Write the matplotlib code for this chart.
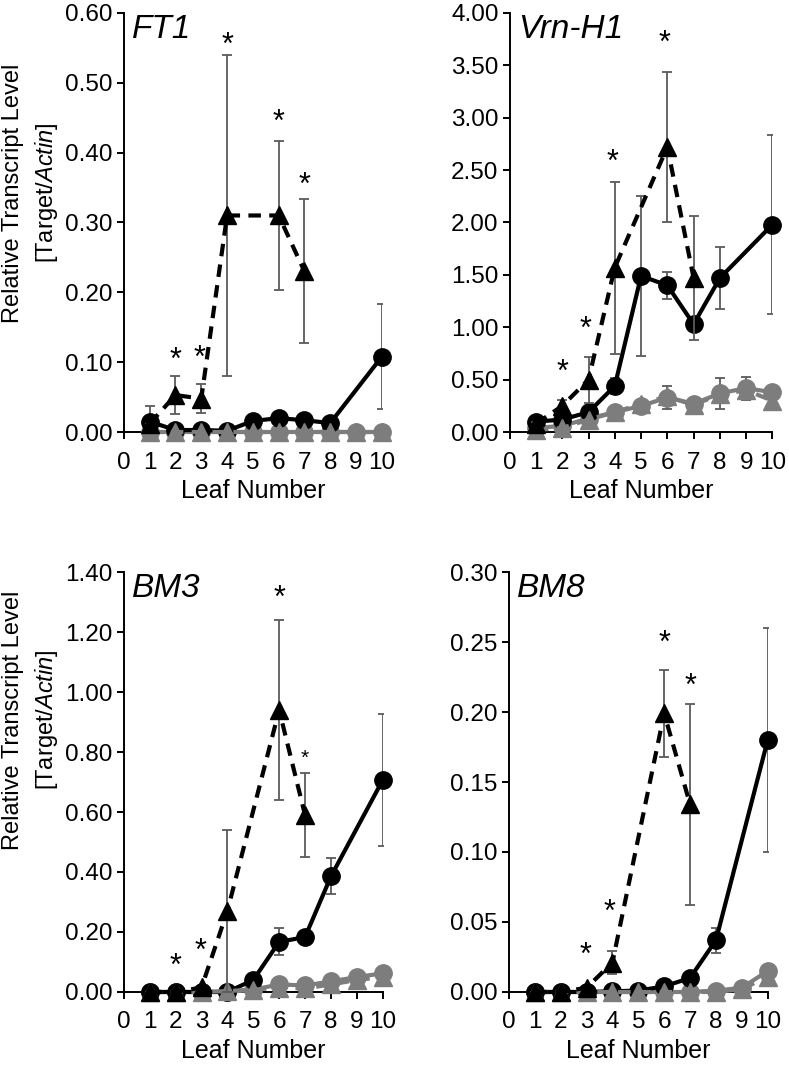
import numpy as np
import matplotlib
matplotlib.use("Agg")
import matplotlib.pyplot as plt
from matplotlib.ticker import FormatStrFormatter, MultipleLocator

plt.rcParams['font.family'] = ['Liberation Sans', 'DejaVu Sans']
plt.rcParams['mathtext.fontset'] = 'custom'
plt.rcParams['mathtext.rm'] = 'Liberation Sans'
plt.rcParams['mathtext.it'] = 'Liberation Sans:italic'

nan = np.nan
leaf = np.arange(1, 11)
x_ticks = list(range(0, 11))

# FT1
ft1_circ_black = [0.015, 0.003, 0.003, 0.002, 0.016, 0.020, 0.017, 0.013, nan, 0.108]
ft1_circ_black_err = [0.022, 0, 0, 0, 0, 0, 0, 0, nan, 0.075]
ft1_tri_black = [0.012, 0.053, 0.048, 0.31, nan, 0.31, 0.23, nan, nan, nan]
ft1_tri_black_err = [0, 0.027, 0.021, 0.23, nan, 0.107, 0.103, nan, nan, nan]
ft1_circ_gray = [0, 0, 0, 0, 0, 0, 0, 0, 0, 0]
ft1_tri_gray = [0, 0, 0, 0, 0, 0, 0, 0, 0, 0]
ft1_star_x = [2, 2.95, 4, 6, 7]
ft1_star_y = [0.115, 0.118, 0.565, 0.455, 0.365]

# Vrn-H1
vrn_circ_black = [0.10, 0.12, 0.19, 0.44, 1.49, 1.40, 1.03, 1.47, nan, 1.98]
vrn_circ_black_err = [0.02, 0.02, 0.03, 0.08, 0.76, 0.13, 0.07, 0.30, nan, 0.85]
vrn_tri_black = [0.08, 0.25, 0.50, 1.57, nan, 2.72, 1.47, nan, nan, nan]
vrn_tri_black_err = [0.02, 0.06, 0.22, 0.82, nan, 0.72, 0.59, nan, nan, nan]
vrn_circ_gray = [0.04, 0.06, 0.13, 0.19, 0.25, 0.33, 0.27, 0.37, 0.42, 0.38]
vrn_circ_gray_err = [0, 0, 0.02, 0.03, 0.04, 0.11, 0.05, 0.15, 0.11, 0.05]
vrn_tri_gray = [0.02, 0.04, 0.12, 0.19, 0.27, 0.34, 0.26, 0.36, 0.40, 0.30]
vrn_star_x = [2, 2.9, 3.9, 5.9]
vrn_star_y = [0.65, 1.06, 2.65, 3.79]

# BM3
bm3_circ_black = [0, 0, 0, 0, 0.04, 0.167, 0.183, 0.385, nan, 0.706]
bm3_circ_black_err = [0, 0, 0, 0, 0.01, 0.045, 0.01, 0.06, nan, 0.22]
bm3_tri_black = [0, 0, 0.015, 0.27, nan, 0.94, 0.59, nan, nan, nan]
bm3_tri_black_err = [0, 0, 0, 0.27, nan, 0.30, 0.14, nan, nan, nan]
bm3_circ_gray = [0, 0, 0, 0, 0.008, 0.025, 0.022, 0.035, 0.05, 0.062]
bm3_tri_gray = [0, 0, 0, 0.003, 0.008, 0.014, 0.012, 0.025, 0.04, 0.05]
bm3_star_x = [2, 2.95, 6]
bm3_star_y = [0.113, 0.163, 1.34]
bm3_small_star = (7, 0.80)

# BM8
bm8_circ_black = [0, 0, 0, 0.0005, 0.001, 0.004, 0.010, 0.037, nan, 0.180]
bm8_circ_black_err = [0, 0, 0, 0, 0, 0, 0, 0.009, nan, 0.08]
bm8_tri_black = [0, 0, 0.003, 0.021, nan, 0.199, 0.134, nan, nan, nan]
bm8_tri_black_err = [0, 0, 0, 0.008, nan, 0.031, 0.072, nan, nan, nan]
bm8_circ_gray = [0, 0, 0, 0, 0, 0, 0, 0.001, 0.003, 0.015]
bm8_tri_gray = [0, 0, 0, 0, 0, 0, 0, 0, 0.002, 0.011]
bm8_star_x = [2.97, 3.9, 6, 7]
bm8_star_y = [0.032, 0.063, 0.255, 0.224]

GRAY = '#7d7d7d'
ERR = '#5a5a5a'


def draw_series(ax, vals, errs, color, marker, dashed, ms, z):
    v = np.array(vals, float)
    ok = ~np.isnan(v)
    if errs is not None:
        e = np.array(errs, float)
        ax.errorbar(leaf[ok], v[ok], yerr=e[ok], fmt='none', ecolor=ERR,
                    elinewidth=1.3, capsize=3.5, capthick=1.3, zorder=z - 0.5)
    line, = ax.plot(leaf[ok], v[ok], color=color, marker=marker, ms=ms,
                    lw=3, zorder=z, clip_on=False)
    if dashed:
        line.set_dashes((3, 2))


def setup_axis(ax, ymax, ystep, gene):
    ax.set_xlim(0, 10)
    ax.set_ylim(0, ymax)
    ax.set_xticks(x_ticks)
    ax.yaxis.set_major_locator(MultipleLocator(ystep))
    ax.yaxis.set_major_formatter(FormatStrFormatter('%.2f'))
    for s in ['top', 'right']:
        ax.spines[s].set_visible(False)
    for s in ['left', 'bottom']:
        ax.spines[s].set_linewidth(1.4)
    ax.tick_params(direction='out', length=5, width=1.4, labelsize=17.5)
    ax.tick_params(axis='x', pad=9)
    ax.tick_params(axis='y', pad=3)
    ax.set_xlabel('Leaf Number', fontsize=18, labelpad=4)
    ax.text(0.033, 0.94, gene, transform=ax.transAxes, fontsize=24,
            style='italic', va='baseline', ha='left')


def stars(ax, xs, ys, size=22):
    for x, y in zip(xs, ys):
        ax.annotate('*', (x, y), xytext=(0, -size * 0.55), textcoords='offset points',
                    ha='center', va='baseline', fontsize=size, annotation_clip=False)


fig = plt.figure(figsize=(7.89, 10.67), dpi=100)

panels = [
    ([0.157, 0.595, 0.327, 0.393], 0.60, 0.10, 'FT1',
     ft1_circ_black, ft1_circ_black_err, ft1_tri_black, ft1_tri_black_err,
     ft1_circ_gray, None, ft1_tri_gray, ft1_star_x, ft1_star_y),
    ([0.646, 0.595, 0.333, 0.393], 4.00, 0.50, 'Vrn-H1',
     vrn_circ_black, vrn_circ_black_err, vrn_tri_black, vrn_tri_black_err,
     vrn_circ_gray, vrn_circ_gray_err, vrn_tri_gray, vrn_star_x, vrn_star_y),
    ([0.157, 0.0703, 0.328, 0.3936], 1.40, 0.20, 'BM3',
     bm3_circ_black, bm3_circ_black_err, bm3_tri_black, bm3_tri_black_err,
     bm3_circ_gray, None, bm3_tri_gray, bm3_star_x, bm3_star_y),
    ([0.645, 0.0703, 0.328, 0.3936], 0.30, 0.05, 'BM8',
     bm8_circ_black, bm8_circ_black_err, bm8_tri_black, bm8_tri_black_err,
     bm8_circ_gray, None, bm8_tri_gray, bm8_star_x, bm8_star_y),
]

axes = []
for (rect, ymax, ystep, gene, cb, cbe, tb, tbe, cg, cge, tg, sx, sy) in panels:
    ax = fig.add_axes(rect)
    setup_axis(ax, ymax, ystep, gene)
    draw_series(ax, cg, cge, GRAY, 'o', False, 12.5, 3)
    draw_series(ax, cb, cbe, 'black', 'o', False, 12.5, 4)
    draw_series(ax, tg, None, GRAY, '^', True, 13, 5)
    draw_series(ax, tb, tbe, 'black', '^', True, 13, 6)
    stars(ax, sx, sy)
    axes.append(ax)

stars(axes[2], [bm3_small_star[0]], [bm3_small_star[1]], size=15)

# y labels (two lines, only on left panels)
for yc in [1 - 193 / 1067, 1 - 720 / 1067]:
    fig.text(13 / 789, yc, 'Relative Transcript Level', rotation=90,
             ha='center', va='center', fontsize=17)
    fig.text(47 / 789, yc, '[Target/$\\mathit{Actin}$]', rotation=90,
             ha='center', va='center', fontsize=17)

fig.savefig('out.png', dpi=100)
